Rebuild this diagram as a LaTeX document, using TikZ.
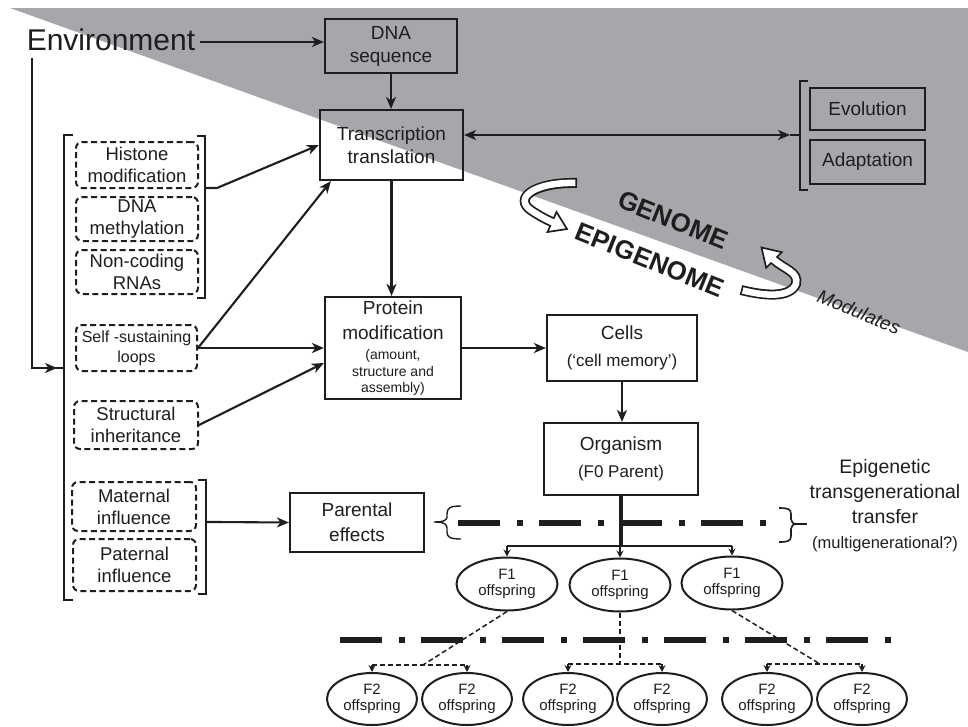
\documentclass[tikz,border=0pt]{standalone}
\usepackage{fontspec}
\setmainfont{Liberation Sans}
\usetikzlibrary{arrows.meta,shapes.geometric,calc}
\definecolor{bgray}{HTML}{A6A7AB}
\definecolor{ink}{HTML}{1E1E1E}
\begin{document}
\begin{tikzpicture}[x=1pt,y=-1pt,color=ink,
  box/.style={draw=ink,line width=2.2pt,inner sep=0pt,align=center,font=\fontsize{19}{23}\selectfont},
  dbox/.style={box,dash pattern=on 6pt off 3.5pt,rounded corners=6pt,line width=2pt,font=\fontsize{18.5}{22}\selectfont},
  oval/.style={ellipse,draw=ink,line width=2pt,inner sep=0pt,align=center,font=\fontsize{15}{16}\selectfont},
  f1/.style={oval,minimum width=101pt,minimum height=53pt},
  f2/.style={oval,minimum width=90pt,minimum height=52pt},
  conn/.style={line width=2.1pt,-{Stealth[length=12pt,width=10pt,inset=3.5pt]}},
  biconn/.style={line width=2.1pt,{Stealth[length=12pt,width=10pt,inset=3.5pt]}-{Stealth[length=12pt,width=10pt,inset=3.5pt]}},
  sconn/.style={line width=1.8pt,-{Stealth[length=7pt,width=7pt,inset=2.5pt]}},
  dconn/.style={line width=1.5pt,dash pattern=on 5pt off 3pt},
  dcarrow/.style={line width=1.5pt,-{Stealth[length=7pt,width=7pt,inset=2.5pt]}},
  ddot/.style={line width=5.5pt,dash pattern=on 42pt off 17pt on 6pt off 16pt},
  brk/.style={line width=2.1pt},
  lbl/.style={inner sep=0pt,align=center},
  bandout/.style={line width=10pt,draw=ink},
  bandin/.style={line width=6.5pt,draw=white},
  ahead/.style={fill=white,draw=ink,line width=1.7pt,line join=miter},
]
\fill[white] (0,0) rectangle (968,726);
\useasboundingbox (0,0) rectangle (968,726);
\fill[bgray] (10,8) -- (968,8) -- (968,352) -- cycle;

% hollow arrows
\draw[bandout] (577,183) .. controls (535,182) and (512,198) .. (532,211) .. controls (540,216) and (545,219) .. (552,222);
\filldraw[ahead] (547.5,232) -- (567,229) -- (556.5,212) -- cycle;
\draw[bandin,shorten <=1.7pt] (577,183) .. controls (535,182) and (512,198) .. (532,211) .. controls (540,216) and (545,219) .. (552,222) -- (555,223.3);

\draw[bandout] (741,290) .. controls (765,296) and (790,298) .. (796,284) .. controls (799,272) and (784,269) .. (774,260);
\filldraw[ahead] (781.8,252.2) -- (761.5,247.5) -- (766.2,267.8) -- cycle;
\draw[bandin,shorten <=1.7pt] (741,290) .. controls (765,296) and (790,298) .. (796,284) .. controls (799,272) and (784,269) .. (774,260) -- (771.9,257.9);

\node[lbl,font=\bfseries\fontsize{26}{30}\selectfont,rotate=-22] (gen) at (673,220) {GENOME};
\node[lbl,font=\bfseries\fontsize{26}{30}\selectfont,rotate=-22] (epi) at (650,260) {EPIGENOME};
\node[lbl,font=\itshape\fontsize{19}{22}\selectfont,rotate=-22] (mod) at (859,312) {Modulates};

% nodes
\node[lbl,font=\fontsize{30}{34}\selectfont,anchor=base] (env) at (111,50) {Environment};
\node[box,minimum width=132pt,minimum height=54pt] (dna) at (391,46) {DNA\\sequence};
\node[box,minimum width=143pt,minimum height=70pt] (tt) at (391.5,145) {Transcription\\translation};
\node[box,minimum width=115pt,minimum height=42pt] (evo) at (867.5,109) {Evolution};
\node[box,minimum width=115pt,minimum height=44pt] (adapt) at (867.5,162) {Adaptation};

\node[dbox,minimum width=122pt,minimum height=46pt] (his) at (137,165) {Histone\\modification};
\node[dbox,minimum width=122pt,minimum height=44pt] (dnam) at (137,219) {DNA\\methylation};
\node[dbox,minimum width=122pt,minimum height=44pt] (ncr) at (137,272) {Non-coding\\RNAs};
\node[dbox,minimum width=121pt,minimum height=46pt,font=\fontsize{16}{20}\selectfont] (ssl) at (136.5,348) {Self -sustaining\\loops};
\node[dbox,minimum width=124pt,minimum height=48pt] (stru) at (136,425) {Structural\\inheritance};
\node[dbox,minimum width=124pt,minimum height=49pt] (mat) at (134,506.5) {Maternal\\influence};
\node[dbox,minimum width=123pt,minimum height=52pt] (pat) at (134.5,565) {Paternal\\influence};

\node[box,minimum width=136pt,minimum height=102pt] (prot) at (393,348) {Protein\\[2pt]modification\\[-3pt]\fontsize{14}{16}\selectfont(amount,\\[-6pt]\fontsize{14}{16}\selectfont structure and\\[-7pt]\fontsize{14}{16}\selectfont assembly)};
\node[box,minimum width=150pt,minimum height=66pt] (cells) at (622,348) {Cells\\[4pt]\fontsize{17}{20}\selectfont(‘cell memory’)};
\node[box,minimum width=154pt,minimum height=72pt] (org) at (621,459) {Organism\\[4pt]\fontsize{17}{20}\selectfont(F0 Parent)};
\node[box,minimum width=134pt,minimum height=59pt] (par) at (357,522.5) {Parental\\[2pt]effects};

\node[lbl,font=\fontsize{19.5}{25}\selectfont] (epit) at (885,506) {Epigenetic\\transgenerational\\transfer\\\fontsize{16.5}{19}\selectfont(multigenerational?)};

\node[f1] (f1a) at (507,584) {F1\\offspring};
\node[f1] (f1b) at (620,585) {F1\\offspring};
\node[f1] (f1c) at (732,583) {F1\\offspring};
\node[f2] (f2a) at (372,699) {F2\\offspring};
\node[f2] (f2b) at (467,699) {F2\\offspring};
\node[f2] (f2c) at (568,699) {F2\\offspring};
\node[f2] (f2d) at (662,699) {F2\\offspring};
\node[f2] (f2e) at (767,699) {F2\\offspring};
\node[f2] (f2f) at (862,699) {F2\\offspring};

% brackets
\draw[brk] (73,135) -- (64,135) -- (64,600) -- (73,600);
\draw[brk] (197,136) -- (205,136) -- (205,298) -- (197,298);
\draw[brk] (198,480) -- (206,480) -- (206,594) -- (198,594);
\draw[brk] (808,81) -- (800,81) -- (800,190) -- (808,190);

% connectors
\coordinate (e1) at (32,58);
\coordinate (e2) at (32,368);
\coordinate (e3) at (57,368);
\coordinate (e4) at (64,368);
\draw[line width=2.6pt] (e1) -- (e2) -- (e4);
\draw[conn] (e2) -- (e3);

\coordinate (envr) at (200,42);
\draw[conn] (envr) -- (dna.west |- envr);
\draw[conn] (dna.south) -- (dna.south |- tt.north);
\coordinate (eb) at (800,135);
\coordinate (eb0) at (790,135);
\draw[biconn] (tt.east |- eb) -- (eb0);
\draw[brk] (eb0) -- (eb);

\coordinate (b1a) at (205,188);
\coordinate (b1) at (217,188);
\draw[conn] (b1a) -- (b1) -- (tt.west);
\draw[conn] (ssl.east) -- ($(tt.south west)+(12,0)$);
\draw[conn] (ssl.east) -- (prot.west);
\draw[conn] (stru.east) -- ($(prot.west)+(0,15)$);
\draw[conn] (tt.south) -- (tt.south |- prot.north);
\draw[conn] (prot.east) -- (cells.west);
\draw[conn] (cells.south) -- (cells.south |- org.north);

\coordinate (b2a) at (206,522);
\coordinate (b2) at (216,522);
\draw[conn] (b2a) -- (b2) -- (par.west);

% dash-dot generation lines
\draw[ddot] (458,523) -- (767,523);
\draw[ddot] (340,640) -- (891,640);

% braces
\draw[line width=1.4pt] (461,506) .. controls (450,506) and (447,508) .. (447,514) -- (447,517) .. controls (447,520) and (444,522) .. (434,522) .. controls (444,522) and (447,524) .. (447,528) -- (447,532) .. controls (447,537) and (450,539) .. (461,539);
\draw[line width=1.6pt] (779,508) .. controls (788,508) and (791,509) .. (791,514) -- (791,519) .. controls (791,522) and (793,524) .. (797,524) .. controls (793,524) and (791,526) .. (791,529) -- (791,536) .. controls (791,541) and (788,542) .. (779,542);
\coordinate (rb) at (797,524);
\coordinate (rbt) at (807,524);
\draw[line width=2pt] (rb) -- (rbt);

% F0 -> F1
\coordinate (hb) at (621,546);
\draw[line width=3.2pt] (org.south) -- (hb);
\draw[line width=2pt] (f1a.north |- hb) -- (f1c.north |- hb);
\draw[sconn] (f1a.north |- hb) -- (f1a.north);
\draw[sconn] (f1b.north |- hb) -- (f1b.north);
\draw[sconn] (f1c.north |- hb) -- (f1c.north);

% F1 -> F2
\coordinate (da) at (423,665);
\coordinate (db) at (620,664);
\coordinate (dc) at (820,664);
\draw[dconn] (f1a.south) -- (da);
\draw[dconn] (f2a.north |- da) -- (f2b.north |- da);
\draw[dcarrow] (f2a.north |- da) -- (f2a.north);
\draw[dcarrow] (f2b.north |- da) -- (f2b.north);
\draw[dconn] (f1b.south) -- (db);
\draw[dconn] (f2c.north |- db) -- (f2d.north |- db);
\draw[dcarrow] (f2c.north |- db) -- (f2c.north);
\draw[dcarrow] (f2d.north |- db) -- (f2d.north);
\draw[dconn] (f1c.south) -- (dc);
\draw[dconn] (f2e.north |- dc) -- (f2f.north |- dc);
\draw[dcarrow] (f2e.north |- dc) -- (f2e.north);
\draw[dcarrow] (f2f.north |- dc) -- (f2f.north);
\end{tikzpicture}
\end{document}
